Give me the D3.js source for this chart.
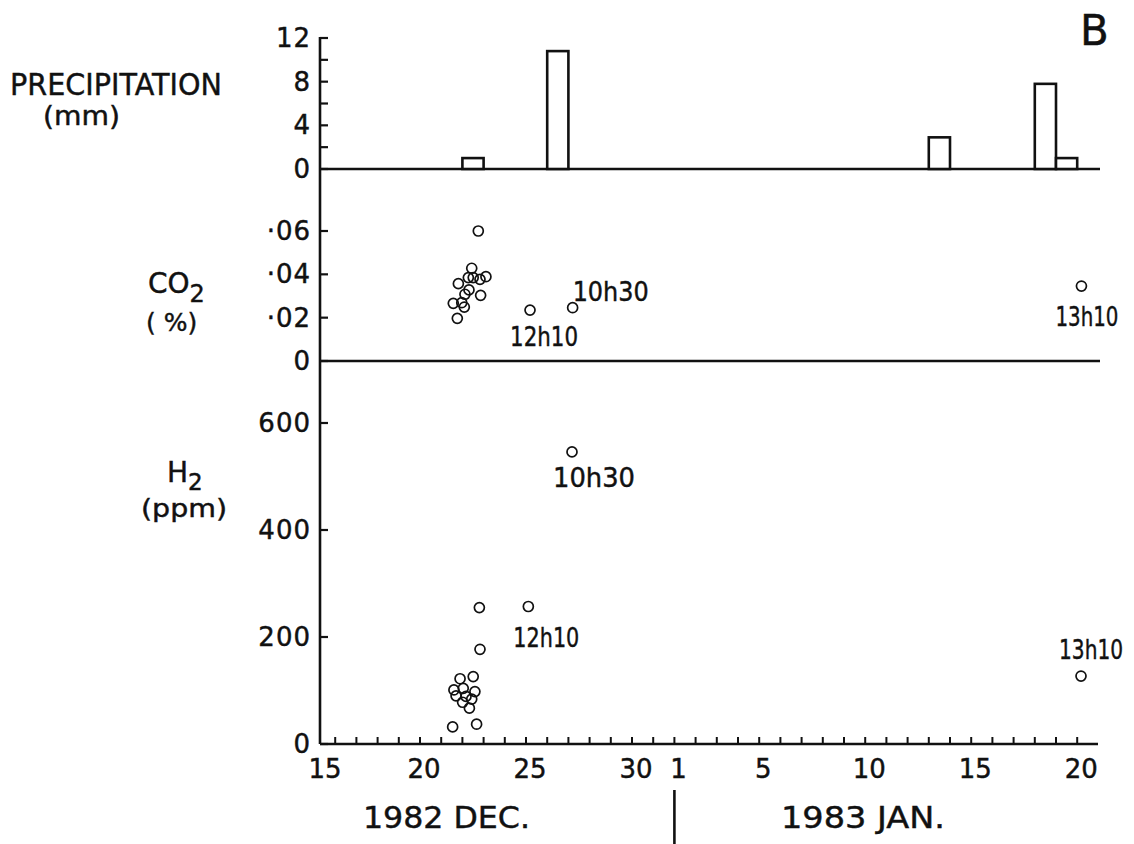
<!DOCTYPE html>
<html>
<head>
<meta charset="utf-8">
<script src="https://cdn.jsdelivr.net/npm/d3@7"></script>
<style>
  html, body { margin: 0; padding: 0; background: #fff; }
  text { font-family: "DejaVu Sans", sans-serif; fill: #111; stroke: #111; stroke-width: 0.45px; }
</style>
</head>
<body>
<svg id="chart" width="1134" height="844"></svg>
<script>
// ---- DATA (day index: 0 = 15 Dec 1982, 17 = 1 Jan 1983) ----
const precipDay = [7, 11, 29, 34, 35];
const precipMm  = [1.0, 10.8, 2.9, 7.8, 1.0];

const co2Day = [7.75, 7.44, 7.28, 7.51, 7.83, 8.11, 6.81, 7.31, 7.12, 7.86, 6.57, 6.97, 7.09, 6.76, 10.19, 12.2, 36.2];
const co2Val = [0.060, 0.0428, 0.0385, 0.0385, 0.0377, 0.0389, 0.0357, 0.0328, 0.0308, 0.0303, 0.0266, 0.0269, 0.0249, 0.0197, 0.0235, 0.0246, 0.0346];

const h2Day = [7.80, 10.11, 7.83, 7.51, 6.89, 6.60, 7.04, 7.59, 6.70, 7.17, 7.44, 7.01, 7.33, 6.54, 7.67, 12.17, 36.18];
const h2Val = [255, 257, 177, 126, 122, 101, 104, 98, 90, 89, 84, 78, 67, 32, 37, 546, 127];

const xTickDays   = [0, 5, 10, 15, 17, 21, 26, 31, 36];
const xTickLabels = ["15", "20", "25", "30", "1", "5", "10", "15", "20"];

const precipTicks  = [0, 2, 4, 6, 8, 10, 12];
const precipLabels = [0, 4, 8, 12];
const co2Ticks  = [0, 0.02, 0.04, 0.06];
const co2Labels = ["0", "·02", "·04", "·06"];
const h2Ticks = [0, 200, 400, 600];

// annotations: series, point index, text
const annoSeries = ["co2", "co2", "co2", "h2", "h2", "h2"];
const annoIndex  = [14, 15, 16, 1, 15, 16];
const annoText   = ["12h10", "10h30", "13h10", "12h10", "10h30", "13h10"];

// ---- LAYOUT ----
const annoOffset = [[-20, 36], [0, -7], [-26, 40], [-15, 40], [-19, 35], [-22, -17]];
const annoWidth  = [68, 76, 63, 66, 82, 64];
const axisX = 320, rightEnd = 1100;

const svg = d3.select("#chart");
svg.append("rect").attr("width", 1134).attr("height", 844).attr("fill", "#fff");

const x  = d3.scaleLinear().domain([0, 36]).range([314, 1077.2]);
const yP = d3.scaleLinear().domain([0, 12]).range([169, 38]);
const yC = d3.scaleLinear().domain([0, 0.06]).range([361, 231]);
const yH = d3.scaleLinear().domain([0, 600]).range([744, 423]);

const ink = "#111";
const lw = 2.6;

// main vertical axis
svg.append("line").attr("x1", axisX).attr("x2", axisX).attr("y1", yP(12) - 1).attr("y2", yH(0))
  .attr("stroke", ink).attr("stroke-width", lw);

// horizontal baselines
svg.append("line").attr("x1", axisX).attr("x2", rightEnd).attr("y1", yP(0)).attr("y2", yP(0))
  .attr("stroke", ink).attr("stroke-width", lw);
svg.append("line").attr("x1", axisX).attr("x2", rightEnd).attr("y1", yC(0)).attr("y2", yC(0))
  .attr("stroke", ink).attr("stroke-width", lw);
svg.append("line").attr("x1", axisX).attr("x2", 1098).attr("y1", yH(0)).attr("y2", yH(0))
  .attr("stroke", ink).attr("stroke-width", lw);

// y ticks (pointing right) + labels
function yTicks(scale, ticks, labelVals, labelTexts) {
  svg.append("g").selectAll("line").data(ticks).join("line")
    .attr("x1", axisX).attr("x2", axisX + 8)
    .attr("y1", d => scale(d)).attr("y2", d => scale(d))
    .attr("stroke", ink).attr("stroke-width", 2.2);
  svg.append("g").selectAll("text").data(labelVals).join("text")
    .attr("x", axisX - 9).attr("y", d => scale(d))
    .attr("text-anchor", "end").attr("dominant-baseline", "central")
    .attr("font-size", 26).attr("letter-spacing", 1)
    .text((d, i) => labelTexts[i]);
}
yTicks(yP, precipTicks, precipLabels, precipLabels.map(String));
yTicks(yC, co2Ticks, co2Ticks, co2Labels);
yTicks(yH, h2Ticks, h2Ticks, h2Ticks.map(String));

// x ticks (every day, upward)
const dayTicks = d3.range(1, 37);
svg.append("g").selectAll("line").data(dayTicks).join("line")
  .attr("x1", d => x(d)).attr("x2", d => x(d))
  .attr("y1", yH(0)).attr("y2", yH(0) - 7)
  .attr("stroke", ink).attr("stroke-width", 2);
svg.append("g").selectAll("text").data(xTickDays).join("text")
  .attr("x", (d, i) => x(d) + (i === 0 ? 11 : 4)).attr("y", 778)
  .attr("text-anchor", "middle").attr("font-size", 26)
  .text((d, i) => xTickLabels[i]);

// precipitation bars
svg.append("g").selectAll("rect").data(precipDay).join("rect")
  .attr("x", d => x(d)).attr("width", d => x(d + 1) - x(d))
  .attr("y", (d, i) => yP(precipMm[i]))
  .attr("height", (d, i) => yP(0) - yP(precipMm[i]))
  .attr("fill", "#fff").attr("stroke", ink).attr("stroke-width", lw);

// points
function points(days, vals, scale) {
  svg.append("g").selectAll("circle").data(days).join("circle")
    .attr("cx", d => x(d)).attr("cy", (d, i) => scale(vals[i]))
    .attr("r", 5).attr("fill", "none").attr("stroke", ink).attr("stroke-width", 1.7);
}
points(co2Day, co2Val, yC);
points(h2Day, h2Val, yH);

// annotations
annoText.forEach((t, i) => {
  const s = annoSeries[i], k = annoIndex[i];
  const px = s === "co2" ? x(co2Day[k]) : x(h2Day[k]);
  const py = s === "co2" ? yC(co2Val[k]) : yH(h2Val[k]);
  svg.append("text").attr("x", px + annoOffset[i][0]).attr("y", py + annoOffset[i][1])
    .attr("font-size", 27).attr("textLength", annoWidth[i])
    .attr("lengthAdjust", "spacingAndGlyphs").text(t);
});

// left titles
svg.append("text").attr("x", 10).attr("y", 95).attr("font-size", 31)
  .attr("textLength", 212).attr("lengthAdjust", "spacingAndGlyphs").text("PRECIPITATION");
svg.append("text").attr("x", 43).attr("y", 125).attr("font-size", 26)
  .attr("textLength", 77).attr("lengthAdjust", "spacingAndGlyphs").text("(mm)");

const co2T = svg.append("text").attr("x", 148).attr("y", 293).attr("font-size", 28);
co2T.append("tspan").text("CO");
co2T.append("tspan").attr("dy", 9).attr("font-size", 24).text("2");
svg.append("text").attr("x", 146).attr("y", 331).attr("font-size", 25).text("( %)");

const h2T = svg.append("text").attr("x", 167).attr("y", 482).attr("font-size", 28);
h2T.append("tspan").text("H");
h2T.append("tspan").attr("dy", 8).attr("font-size", 23).text("2");
svg.append("text").attr("x", 141).attr("y", 517).attr("font-size", 25)
  .attr("textLength", 86).attr("lengthAdjust", "spacingAndGlyphs").text("(ppm)");

// panel letter
svg.append("text").attr("x", 1080).attr("y", 45).attr("font-size", 42).text("B");

// month labels and separator
svg.append("text").attr("x", 363).attr("y", 828).attr("font-size", 31)
  .attr("textLength", 167).attr("lengthAdjust", "spacingAndGlyphs").text("1982  DEC.");
svg.append("text").attr("x", 781).attr("y", 828).attr("font-size", 31)
  .attr("textLength", 164).attr("lengthAdjust", "spacingAndGlyphs").text("1983  JAN.");
svg.append("line").attr("x1", x(17)).attr("x2", x(17)).attr("y1", 790).attr("y2", 844)
  .attr("stroke", ink).attr("stroke-width", 2.6);
</script>
</body>
</html>
